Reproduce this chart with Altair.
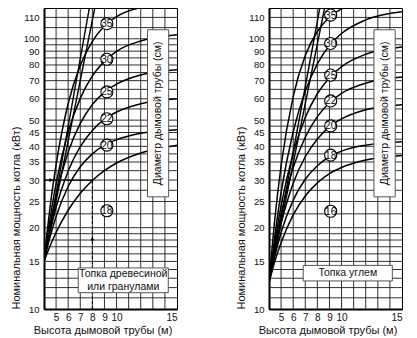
import altair as alt
import pandas as pd

# ---------------- data ----------------
heights = [4, 4.5, 5, 6, 7, 8, 9, 10, 12, 15]

wood_curves = {
    "18": [15, 17.1, 19.2, 23.2, 26.8, 29.9, 32.5, 34.7, 37.8, 40.4],
    "20": [15, 18.5, 22.0, 28.4, 33.6, 37.5, 40.4, 42.3, 44.7, 46.1],
    "22": [15, 19.3, 23.8, 32.4, 39.9, 45.8, 50.4, 53.6, 57.5, 60.0],
    "25": [15, 20.4, 26.3, 38.1, 48.6, 57.1, 63.5, 68.0, 73.5, 76.8],
    "30": [15, 21.6, 29.1, 45.2, 60.2, 72.9, 82.5, 89.9, 98.2, 103.4],
    "35": [15, 23.8, 34.2, 57.6, 79.7, 97.9, 111.5, 120.8, 130.6, 137.0],
}
wood_steep_h = {"a": [4, 7.75], "b": [4, 8.2]}
wood_steep_p = {"a": [15, 130], "b": [15, 130]}

coal_curves = {
    "16": [12.5, 15.1, 17.6, 22.3, 26.2, 29.3, 31.7, 33.4, 35.6, 37.0],
    "18": [12.5, 15.8, 19.2, 25.3, 30.2, 33.9, 36.6, 38.4, 40.4, 41.6],
    "20": [12.5, 16.5, 20.7, 29.2, 36.6, 42.6, 47.2, 50.5, 54.6, 57.0],
    "22": [12.5, 17.2, 22.4, 33.3, 43.2, 51.5, 58.0, 62.8, 68.5, 72.2],
    "25": [12.5, 17.9, 24.1, 37.7, 51.1, 62.6, 71.8, 78.9, 87.7, 93.3],
    "30": [12.5, 18.9, 27.0, 45.3, 64.0, 80.7, 94.4, 104.6, 117.5, 125.9],
    "35": [12.5, 21.9, 33.9, 61.1, 86.7, 106.4, 120.2, 129.1, 138.0, 145.0],
}
coal_steep_h = {"a": [4, 8.2], "b": [4, 8.6]}
coal_steep_p = {"a": [12.5, 130], "b": [12.5, 130]}

wood_label_d = ["35", "30", "25", "22", "20", "18"]
wood_label_p = [113.7, 84.0, 63.6, 50.6, 40.4, 23.1]
wood_label_h = 9.2
coal_label_d = ["35", "30", "25", "22", "20", "18", "16"]
coal_label_p = [122.4, 96.1, 73.4, 58.9, 47.6, 37.1, 23.0]
coal_label_h = 9.1

example_height = 8
example_power = 30

x_tick_values = [5, 6, 7, 8, 9, 10, 15]
x_grid = [5, 6, 7, 8, 9, 10, 11, 12, 13, 14]
y_tick_values = [10, 15, 20, 25, 30, 35, 40, 45, 50, 60, 70, 80, 90, 100, 120]
y_tick_labels = ["10", "15", "20", "25", "30", "35", "40", "45", "50", "60",
                 "70", "80", "90", "100", "110"]
y_grid = [11, 12, 13, 14, 15, 16, 17, 18, 19, 20, 22.5, 25, 27.5, 30, 32.5, 35,
          37.5, 40, 42.5, 45, 47.5, 50, 55, 60, 65, 70, 75, 80, 85, 90, 95, 100,
          110, 120]

x_title = "Высота дымовой трубы (м)"
y_title = "Номинальная мощность котла (кВт)"
diam_title = "Диаметр дымовой трубы (см)"
wood_box_text = "Топка древесиной\nили гранулами"
coal_box_text = "Топка углем"

# ---------------- helpers ----------------
FONT = "Liberation Sans"
X_DOMAIN = [4, 15]
Y_DOMAIN = [10, 130]
W, H = 133, 301

label_expr = "''"
for v, l in reversed(list(zip(y_tick_values, y_tick_labels))):
    label_expr = f"datum.value == {v} ? '{l}' : ({label_expr})"

X_AXIS = alt.Axis(values=x_tick_values, grid=False, ticks=False, domainWidth=2,
                  domainColor="#000", labelFontSize=10, labelColor="#111",
                  labelPadding=3, title=x_title, titleFontSize=11,
                  titleFontWeight="normal", titleColor="#111", titleX=58.5,
                  titlePadding=2, labelFont=FONT, titleFont=FONT)
Y_AXIS = alt.Axis(values=y_tick_values, labelExpr=label_expr, grid=False, ticks=False,
                  domainWidth=2, domainColor="#000", labelFontSize=9.5,
                  labelColor="#111", labelPadding=5, title=y_title, titleFontSize=11,
                  titleFontWeight="normal", titleColor="#111", titleAnchor="start",
                  titlePadding=2, labelFont=FONT, titleFont=FONT)


def xs(field="h"):
    return alt.X(f"{field}:Q", scale=alt.Scale(domain=X_DOMAIN, nice=False, zero=False),
                 axis=X_AXIS)


def ys(field="p"):
    return alt.Y(f"{field}:Q", scale=alt.Scale(type="log", domain=Y_DOMAIN, nice=False),
                 axis=Y_AXIS)


def long(heights_map, values_map):
    rows = []
    for k in values_map:
        hs = heights_map[k] if isinstance(heights_map, dict) else heights_map
        for h, p in zip(hs, values_map[k]):
            rows.append({"h": h, "p": p, "d": k})
    return pd.DataFrame(rows)


def panel(curves, steep_h, steep_p, lab_d, lab_p, lab_h, vbox, bbox, btext, example):
    gx = alt.Chart(pd.DataFrame({"h": x_grid})).mark_rule(color="#1a1a1a", strokeWidth=0.9).encode(
        x=xs("h"))
    gy = alt.Chart(pd.DataFrame({"p": y_grid})).mark_rule(color="#1a1a1a", strokeWidth=0.9).encode(
        y=ys("p"))
    lines = alt.Chart(long(heights, curves)).mark_line(
        color="#000", strokeWidth=1.5, interpolate="monotone", clip=True).encode(
        x=xs(), y=ys(), detail="d:N")
    steep = alt.Chart(long(steep_h, steep_p)).mark_line(
        color="#000", strokeWidth=1.4, clip=True).encode(x=xs(), y=ys(), detail="d:N")
    layers = [gx, gy, lines, steep]

    if example:
        hline = alt.Chart(pd.DataFrame({"h": [X_DOMAIN[0]], "h2": [example_height],
                                        "p": [example_power]})).mark_rule(
            color="#000", strokeWidth=1.3).encode(x=xs("h"), x2="h2:Q", y=ys("p"))
        vline = alt.Chart(pd.DataFrame({"h": [example_height], "p": [Y_DOMAIN[0]],
                                        "p2": [example_power]})).mark_rule(
            color="#000", strokeWidth=1, strokeDash=[3, 2]).encode(
            x=xs("h"), y=ys("p"), y2="p2:Q")
        arr_r = alt.Chart(pd.DataFrame({"h": [4.6], "p": [example_power]})).mark_point(
            shape="triangle-right", filled=True, color="#000", size=18, opacity=1).encode(
            x=xs(), y=ys())
        arr_u = alt.Chart(pd.DataFrame({"h": [example_height], "p": [18.2]})).mark_point(
            shape="triangle-up", filled=True, color="#000", size=18, opacity=1).encode(
            x=xs(), y=ys())
        layers += [hline, vline, arr_r, arr_u]

    def box(b):
        return alt.Chart(pd.DataFrame({"h": [b[0]], "h2": [b[1]], "p": [b[2]], "p2": [b[3]]})).mark_rect(
            fill="#fff", stroke="#555", strokeWidth=1).encode(
            x=xs("h"), x2="h2:Q", y=ys("p"), y2="p2:Q")

    layers.append(box(vbox))
    layers.append(box(bbox))
    vt = alt.Chart(pd.DataFrame({"h": [(vbox[0] + vbox[1]) / 2], "p": [53.0], "t": [diam_title]})).mark_text(
        angle=270, fontSize=10.5, font=FONT, color="#111", baseline="middle", align="center").encode(
        x=xs(), y=ys(), text="t:N")
    nlines = btext.count("\n")
    bt = alt.Chart(pd.DataFrame({"h": [(bbox[0] + bbox[1]) / 2], "p": [bbox[4]], "t": [btext]})).mark_text(
        fontSize=10.5, font=FONT, color="#111", baseline="middle", align="center",
        lineBreak="\n", lineHeight=12.5, dy=-6.25 * nlines).encode(x=xs(), y=ys(), text="t:N")
    lab = pd.DataFrame({"h": [lab_h] * len(lab_d), "p": lab_p, "t": lab_d})
    circ = alt.Chart(lab).mark_point(shape="circle", filled=True, fill="#fff", stroke="#000",
                                     strokeWidth=1.1, size=145, opacity=1).encode(x=xs(), y=ys())
    ctext = alt.Chart(lab).mark_text(fontSize=10, font=FONT, color="#000", baseline="middle",
                                     align="center", dy=0.5).encode(x=xs(), y=ys(), text="t:N")
    layers += [vt, bt, circ, ctext]
    return alt.layer(*layers).properties(width=W, height=H)


left = panel(wood_curves, wood_steep_h, wood_steep_p, wood_label_d, wood_label_p, wood_label_h,
             vbox=[12.56, 14.31, 108, 26.0], bbox=[6.83, 14.28, 14.19, 11.49, 12.77],
             btext=wood_box_text, example=True)
right = panel(coal_curves, coal_steep_h, coal_steep_p, coal_label_d, coal_label_p, coal_label_h,
              vbox=[12.68, 14.44, 108, 26.0], bbox=[6.83, 14.2, 14.5, 12.7, 13.6],
              btext=coal_box_text, example=False)

chart = alt.hconcat(left, right, spacing=56).properties(
    padding={"left": 9, "top": 6, "right": 5, "bottom": 5}
).configure(font=FONT).configure_view(stroke="#000", strokeWidth=1)

chart.save("out.html", embed_options={"renderer": "svg", "actions": False})
